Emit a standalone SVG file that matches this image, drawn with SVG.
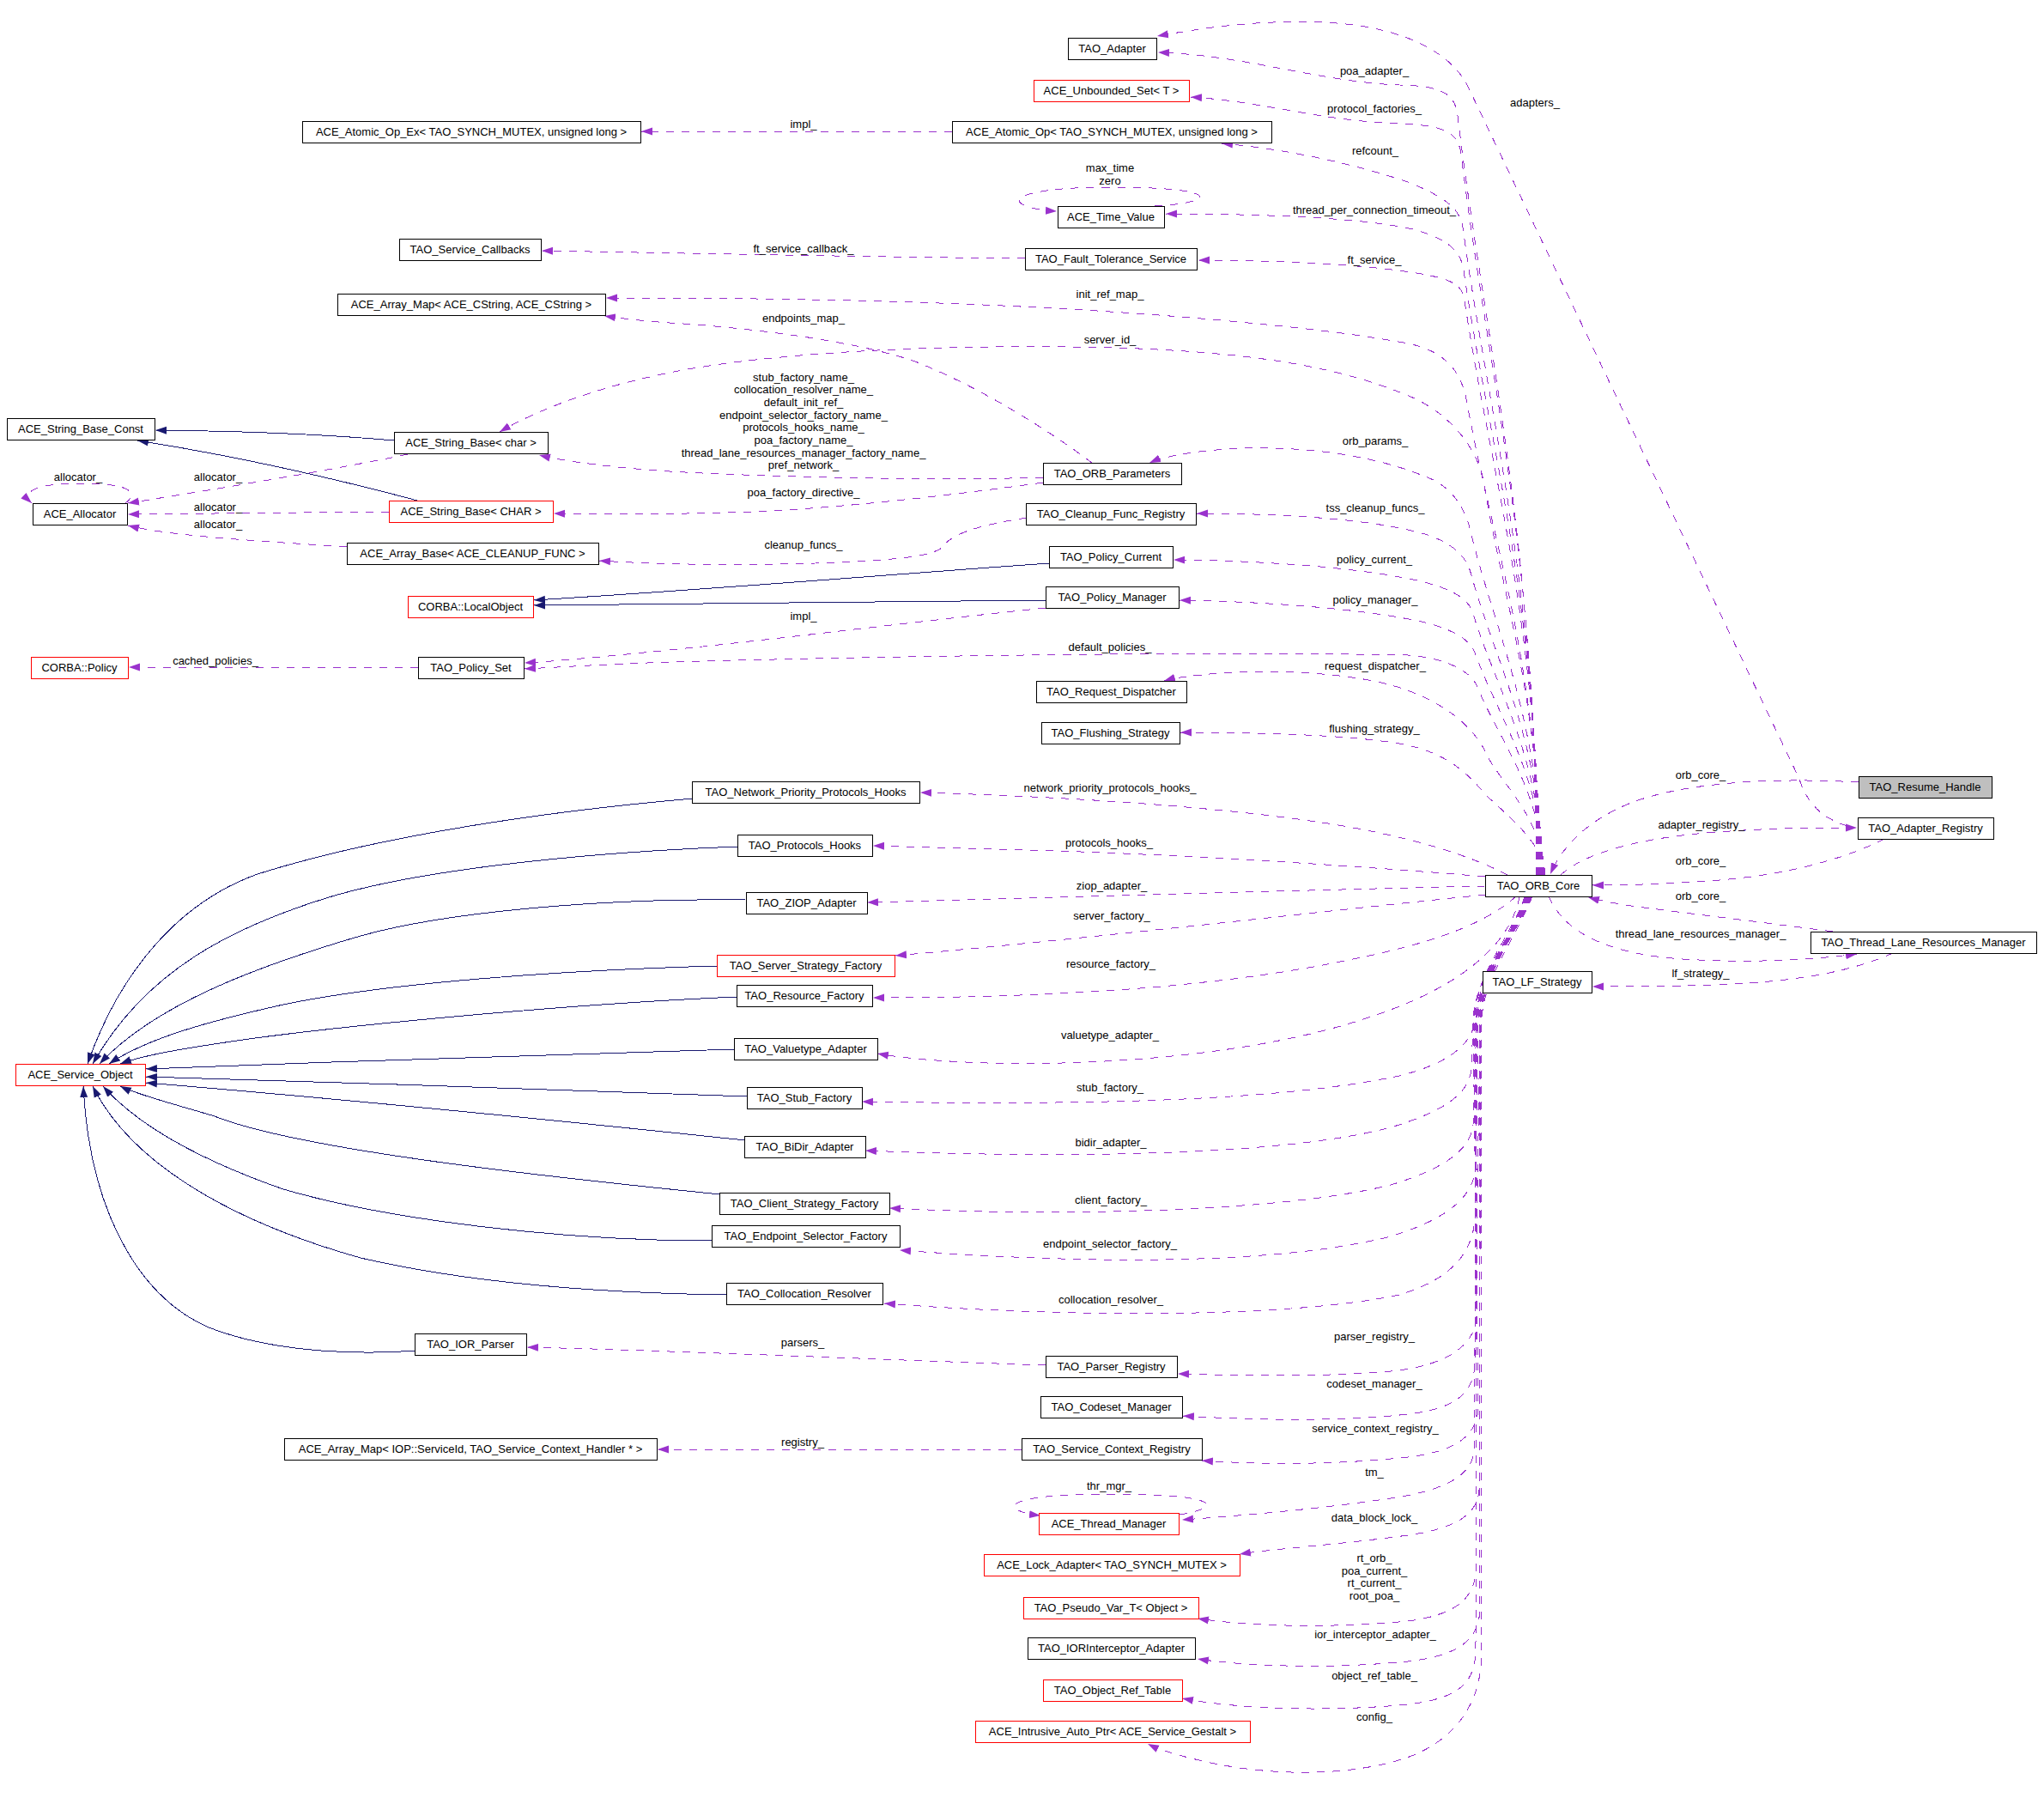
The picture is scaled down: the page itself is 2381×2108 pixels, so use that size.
<svg xmlns="http://www.w3.org/2000/svg" width="2381" height="2108" viewBox="0 0 2381 2108">
<style>
text{font-family:"Liberation Sans",Arial,sans-serif;font-size:13px;fill:#000}
.n text{text-anchor:middle}
.n rect{fill:#fff;stroke:#000;stroke-width:1;shape-rendering:crispEdges}
.r rect{stroke:#ff0000}
.g rect{fill:#bfbfbf}
.e{fill:none;stroke:#9a32cd;stroke-width:1;stroke-dasharray:9,9;marker-end:url(#ap);shape-rendering:crispEdges}
.i{fill:none;stroke:#191970;stroke-width:1;marker-end:url(#an);shape-rendering:crispEdges}
.l{text-anchor:middle}
</style>
<defs>
<marker id="ap" markerUnits="userSpaceOnUse" markerWidth="14" markerHeight="10" refX="13" refY="5" orient="auto"><path d="M0,0.5 L13,5 L0,9.5 z" fill="#9a32cd"/></marker>
<marker id="an" markerUnits="userSpaceOnUse" markerWidth="14" markerHeight="10" refX="13" refY="5" orient="auto"><path d="M0,0.5 L13,5 L0,9.5 z" fill="#191970"/></marker>
</defs>
<rect width="2381" height="2108" fill="#fff"/>
<g id="connectors">
<path class="e" d="M1790,1019 C1788,621 1730,400 1698,135 C1695,110 1682,100 1630,99 C1540,96 1450,64 1349,61"/>
<path class="e" d="M1791,1019 C1789,641 1733,432 1702,180 C1699,155 1685,146 1630,144 C1540,141 1470,118 1387,113"/>
<path class="e" d="M1792,1019 C1790,680 1735,491 1704,265 C1701,242 1680,228 1640,212 C1560,185 1480,172 1423,167"/>
<path class="e" d="M1793,1019 C1791,702 1736,526 1705,315 C1702,294 1690,280 1650,268 C1590,253 1460,249 1358,249"/>
<path class="e" d="M1793,1019 C1791,718 1736,551 1706,350 C1703,330 1690,325 1650,318 C1580,307 1480,303 1396,303"/>
<path class="e" d="M1794,1019 C1792,772 1739,635 1709,470 C1704,440 1690,410 1640,400 C1560,385 1450,375 1350,367 C1150,352 950,347 706,347"/>
<path class="e" d="M1795,1019 C1793,812 1751,698 1728,560 C1723,532 1700,490 1650,465 C1560,425 1450,410 1300,405 C1100,400 900,410 780,434 C700,450 630,475 582,503"/>
<path class="e" d="M1796,1019 C1794,837 1741,736 1712,615 C1706,591 1690,565 1660,555 C1600,530 1520,520 1450,522 C1400,524 1360,530 1339,539"/>
<path class="e" d="M1797,1019 C1795,862 1743,775 1714,670 C1710,654 1700,635 1660,622 C1600,605 1500,598 1394,598"/>
<path class="e" d="M1797,1019 C1795,882 1744,806 1716,715 C1712,701 1700,688 1655,677 C1590,662 1480,653 1367,652"/>
<path class="e" d="M1798,1019 C1796,902 1746,838 1718,760 C1714,749 1700,735 1660,725 C1600,711 1490,701 1374,699"/>
<path class="e" d="M1798,1019 C1796,920 1748,866 1721,800 C1717,790 1700,768 1640,763 C1400,758 1000,765 780,771 C700,774 650,777 611,779"/>
<path class="e" d="M1799,1019 C1797,950 1745,910 1730,875 C1710,835 1660,805 1600,793 C1530,780 1450,780 1400,786 C1380,788 1366,790 1356,793"/>
<path class="e" d="M1800,1019 C1798,980 1750,945 1730,925 C1705,895 1680,875 1630,866 C1570,856 1470,853 1375,853"/>
<path class="e" d="M1756,1019 C1700,990 1620,970 1540,958 C1420,940 1250,928 1072,923"/>
<path class="e" d="M1730,1021 C1600,1010 1400,996 1200,990 C1120,988 1060,986 1017,985"/>
<path class="e" d="M1730,1032 C1500,1037 1250,1045 1010,1051"/>
<path class="e" d="M1731,1042 C1550,1060 1300,1090 1043,1113"/>
<path class="e" d="M1766,1044 C1720,1085 1640,1105 1546,1123 C1420,1147 1250,1162 1017,1162"/>
<path class="e" d="M1770,1044 C1760,1100 1700,1150 1600,1183 C1480,1225 1300,1242 1150,1238 C1090,1236 1050,1232 1022,1227"/>
<path class="e" d="M1776,1044 C1758,1100 1722,1140 1719,1185 C1716,1215 1690,1238 1630,1253 C1500,1280 1300,1288 1004,1283"/>
<path class="e" d="M1777,1044 C1754,1100 1717,1140 1716,1190 L1714,1245 C1711,1275 1680,1295 1620,1313 C1500,1345 1250,1350 1008,1340"/>
<path class="e" d="M1778,1044 C1755,1100 1721,1140 1720,1190 L1716,1310 C1713,1340 1680,1362 1620,1380 C1500,1410 1250,1418 1036,1407"/>
<path class="e" d="M1779,1044 C1756,1100 1718,1140 1717,1190 L1719,1360 C1716,1395 1685,1420 1620,1440 C1500,1470 1300,1475 1048,1456"/>
<path class="e" d="M1780,1044 C1757,1100 1723,1140 1722,1190 L1718,1420 C1715,1460 1690,1490 1630,1508 C1500,1535 1250,1535 1030,1518"/>
<path class="e" d="M1780,1044 C1757,1100 1720,1140 1719,1190 L1721,1530 C1719,1565 1690,1590 1620,1597 C1540,1604 1450,1602 1372,1600"/>
<path class="e" d="M1781,1044 C1758,1100 1725,1140 1724,1190 L1718,1590 C1716,1620 1700,1640 1640,1647 C1560,1656 1460,1654 1378,1649"/>
<path class="e" d="M1781,1044 C1758,1100 1717,1140 1716,1190 L1722,1640 C1720,1670 1700,1690 1640,1697 C1560,1706 1470,1706 1400,1701"/>
<path class="e" d="M1782,1044 C1759,1100 1722,1140 1721,1190 L1717,1690 C1715,1715 1690,1735 1620,1745 C1540,1757 1450,1765 1377,1770"/>
<path class="e" d="M1782,1044 C1759,1100 1726,1140 1725,1190 L1723,1735 C1721,1765 1695,1780 1640,1788 C1560,1799 1490,1803 1444,1810"/>
<path class="e" d="M1783,1044 C1760,1100 1719,1140 1718,1190 L1720,1825 C1718,1860 1700,1880 1640,1888 C1560,1896 1460,1895 1395,1885"/>
<path class="e" d="M1783,1044 C1760,1100 1724,1140 1723,1190 L1724,1875 C1722,1910 1700,1928 1640,1935 C1560,1943 1460,1942 1395,1932"/>
<path class="e" d="M1784,1044 C1761,1100 1721,1140 1720,1190 L1719,1925 C1717,1960 1700,1978 1640,1985 C1560,1993 1450,1992 1377,1978"/>
<path class="e" d="M1785,1044 C1762,1100 1727,1140 1726,1190 L1725,1940 C1721,1990 1690,2030 1636,2048 C1580,2066 1500,2070 1420,2055 C1385,2048 1355,2040 1337,2031"/>
<path class="e" d="M2165,911 C2060,905 1960,912 1900,935 C1850,955 1820,985 1806,1018"/>
<path class="e" d="M1818,1019 C1850,990 1920,975 2000,969 C2070,964 2120,964 2163,964"/>
<path class="e" d="M2195,977 C2150,1000 2080,1020 1990,1026 C1930,1030 1890,1031 1855,1031"/>
<path class="e" d="M2135,1085 C2060,1075 1960,1063 1900,1055 C1880,1052 1865,1049 1850,1045"/>
<path class="e" d="M1804,1044 C1820,1080 1860,1110 1960,1117 C2040,1122 2110,1118 2163,1111"/>
<path class="e" d="M2205,1110 C2160,1130 2100,1143 2000,1147 C1940,1149 1890,1149 1855,1149"/>
<path class="e" d="M2152,962 C2120,952 2105,935 2095,905 L1712,105 C1695,65 1640,30 1540,26 C1460,23 1400,33 1348,42"/>
<path class="e" d="M1109,153 L747,153"/>
<path class="e" d="M1194,301 C1000,299 800,295 631,292"/>
<path class="e" d="M1272,539 C1220,500 1140,450 1066,421 C1000,398 880,382 780,376 C750,374 725,371 704,368"/>
<path class="e" d="M1215,556 C1100,560 900,556 780,549 C720,545 660,538 628,530"/>
<path class="e" d="M1215,562 C1120,575 1000,590 880,596 C800,599 700,599 645,598"/>
<path class="e" d="M1196,603 C1150,610 1110,620 1100,635 C1090,648 1050,652 950,656 C850,659 760,657 698,653"/>
<path class="e" d="M1218,708 C1100,720 900,745 780,757 C700,765 650,770 611,772"/>
<path class="e" d="M487,777 L150,777"/>
<path class="e" d="M1190,1688 L766,1688"/>
<path class="e" d="M1218,1590 C1100,1586 900,1578 780,1574 C700,1571 650,1570 614,1569"/>
<path class="e" d="M475,529 C400,545 250,570 149,586"/>
<path class="e" d="M453,596 L149,599"/>
<path class="e" d="M404,637 C320,631 200,625 149,612"/>
<path class="e" d="M146,586 C160,576 158,563 95,563 C35,563 25,575 37,586"/>
<path class="e" d="M1345,240 C1420,236 1425,218 1294,218 C1165,218 1165,242 1231,246"/>
<path class="e" d="M1374,1764 C1425,1756 1425,1740 1292,1740 C1160,1740 1165,1760 1212,1765"/>
<path class="i" d="M459,513 C380,506 280,502 181,501"/>
<path class="i" d="M490,584 C430,568 300,535 160,513"/>
<path class="i" d="M1222,656 C1050,668 850,685 622,699"/>
<path class="i" d="M1218,699 C1050,700 850,704 622,705"/>
<path class="i" d="M807,930 C600,948 420,980 300,1018 C210,1050 140,1130 102,1239"/>
<path class="i" d="M859,986 C700,992 500,1010 383,1045 C270,1080 170,1130 108,1239"/>
<path class="i" d="M868,1048 C700,1046 520,1062 420,1090 C300,1125 180,1170 116,1239"/>
<path class="i" d="M836,1125 C650,1130 450,1145 330,1170 C240,1190 170,1210 127,1239"/>
<path class="i" d="M858,1161 C650,1170 400,1195 290,1210 C220,1220 170,1228 140,1239"/>
<path class="i" d="M855,1222 C650,1228 400,1236 170,1245"/>
<path class="i" d="M871,1277 C650,1270 400,1260 170,1254"/>
<path class="i" d="M868,1328 C650,1305 400,1280 170,1261"/>
<path class="i" d="M839,1391 C650,1372 350,1340 250,1300 C200,1285 160,1275 140,1265"/>
<path class="i" d="M829,1445 C650,1445 450,1420 330,1385 C230,1350 160,1310 120,1265"/>
<path class="i" d="M847,1508 C700,1506 550,1495 420,1465 C260,1420 150,1350 108,1265"/>
<path class="i" d="M484,1573 C420,1578 330,1575 260,1552 C170,1525 105,1420 97,1265"/>
<text class="l" x="1788" y="124">adapters_</text>
<text class="l" x="1601" y="87">poa_adapter_</text>
<text class="l" x="1601" y="131">protocol_factories_</text>
<text class="l" x="1602" y="180">refcount_</text>
<text class="l" x="1601" y="249">thread_per_connection_timeout_</text>
<text class="l" x="1601" y="307">ft_service_</text>
<text class="l" x="1293" y="347">init_ref_map_</text>
<text class="l" x="1293" y="400">server_id_</text>
<text class="l" x="1602" y="518">orb_params_</text>
<text class="l" x="1602" y="596">tss_cleanup_funcs_</text>
<text class="l" x="1601" y="656">policy_current_</text>
<text class="l" x="1602" y="703">policy_manager_</text>
<text class="l" x="1293" y="758">default_policies_</text>
<text class="l" x="1602" y="780">request_dispatcher_</text>
<text class="l" x="1601" y="853">flushing_strategy_</text>
<text class="l" x="936" y="149">impl_</text>
<text class="l" x="1293" y="200">max_time</text>
<text class="l" x="1293" y="215">zero</text>
<text class="l" x="936" y="294">ft_service_callback_</text>
<text class="l" x="936" y="375">endpoints_map_</text>
<text class="l" x="936" y="444">stub_factory_name_</text>
<text class="l" x="936" y="458">collocation_resolver_name_</text>
<text class="l" x="936" y="473">default_init_ref_</text>
<text class="l" x="936" y="488">endpoint_selector_factory_name_</text>
<text class="l" x="936" y="502">protocols_hooks_name_</text>
<text class="l" x="936" y="517">poa_factory_name_</text>
<text class="l" x="936" y="532">thread_lane_resources_manager_factory_name_</text>
<text class="l" x="936" y="546">pref_network_</text>
<text class="l" x="936" y="578">poa_factory_directive_</text>
<text class="l" x="936" y="639">cleanup_funcs_</text>
<text class="l" x="936" y="722">impl_</text>
<text class="l" x="251" y="774">cached_policies_</text>
<text class="l" x="91" y="560">allocator_</text>
<text class="l" x="254" y="560">allocator_</text>
<text class="l" x="254" y="595">allocator_</text>
<text class="l" x="254" y="615">allocator_</text>
<text class="l" x="1981" y="907">orb_core_</text>
<text class="l" x="1982" y="965">adapter_registry_</text>
<text class="l" x="1981" y="1007">orb_core_</text>
<text class="l" x="1981" y="1048">orb_core_</text>
<text class="l" x="1981" y="1092">thread_lane_resources_manager_</text>
<text class="l" x="1981" y="1138">lf_strategy_</text>
<text class="l" x="1293" y="922">network_priority_protocols_hooks_</text>
<text class="l" x="1292" y="986">protocols_hooks_</text>
<text class="l" x="1295" y="1036">ziop_adapter_</text>
<text class="l" x="1295" y="1071">server_factory_</text>
<text class="l" x="1294" y="1127">resource_factory_</text>
<text class="l" x="1293" y="1210">valuetype_adapter_</text>
<text class="l" x="1293" y="1271">stub_factory_</text>
<text class="l" x="1294" y="1335">bidir_adapter_</text>
<text class="l" x="1294" y="1402">client_factory_</text>
<text class="l" x="1293" y="1453">endpoint_selector_factory_</text>
<text class="l" x="1294" y="1518">collocation_resolver_</text>
<text class="l" x="935" y="1568">parsers_</text>
<text class="l" x="1601" y="1561">parser_registry_</text>
<text class="l" x="1601" y="1616">codeset_manager_</text>
<text class="l" x="1602" y="1668">service_context_registry_</text>
<text class="l" x="935" y="1684">registry_</text>
<text class="l" x="1292" y="1735">thr_mgr_</text>
<text class="l" x="1601" y="1719">tm_</text>
<text class="l" x="1601" y="1772">data_block_lock_</text>
<text class="l" x="1601" y="1819">rt_orb_</text>
<text class="l" x="1601" y="1834">poa_current_</text>
<text class="l" x="1601" y="1848">rt_current_</text>
<text class="l" x="1601" y="1863">root_poa_</text>
<text class="l" x="1602" y="1908">ior_interceptor_adapter_</text>
<text class="l" x="1601" y="1956">object_ref_table_</text>
<text class="l" x="1601" y="2004">config_</text>
</g>
<g id="n1" class="n"><rect x="1244" y="44" width="103" height="25"/><text x="1295.5" y="61">TAO_Adapter</text></g>
<g id="n2" class="n r"><rect x="1204" y="93" width="181" height="25"/><text x="1294.5" y="110">ACE_Unbounded_Set&lt; T &gt;</text></g>
<g id="n3" class="n"><rect x="352" y="141" width="394" height="25"/><text x="549" y="158">ACE_Atomic_Op_Ex&lt; TAO_SYNCH_MUTEX, unsigned long &gt;</text></g>
<g id="n4" class="n"><rect x="1109" y="141" width="372" height="25"/><text x="1295" y="158">ACE_Atomic_Op&lt; TAO_SYNCH_MUTEX, unsigned long &gt;</text></g>
<g id="n5" class="n"><rect x="1232" y="240" width="124" height="25"/><text x="1294" y="257">ACE_Time_Value</text></g>
<g id="n6" class="n"><rect x="465" y="278" width="165" height="25"/><text x="547.5" y="295">TAO_Service_Callbacks</text></g>
<g id="n7" class="n"><rect x="1194" y="289" width="200" height="25"/><text x="1294" y="306">TAO_Fault_Tolerance_Service</text></g>
<g id="n8" class="n"><rect x="393" y="342" width="312" height="25"/><text x="549" y="359">ACE_Array_Map&lt; ACE_CString, ACE_CString &gt;</text></g>
<g id="n9" class="n"><rect x="8" y="487" width="172" height="25"/><text x="94" y="504">ACE_String_Base_Const</text></g>
<g id="n10" class="n"><rect x="459" y="503" width="179" height="25"/><text x="548.5" y="520">ACE_String_Base&lt; char &gt;</text></g>
<g id="n11" class="n"><rect x="1215" y="539" width="161" height="25"/><text x="1295.5" y="556">TAO_ORB_Parameters</text></g>
<g id="n12" class="n"><rect x="38" y="586" width="110" height="25"/><text x="93" y="603">ACE_Allocator</text></g>
<g id="n13" class="n r"><rect x="453" y="583" width="191" height="25"/><text x="548.5" y="600">ACE_String_Base&lt; CHAR &gt;</text></g>
<g id="n14" class="n"><rect x="1195" y="586" width="198" height="25"/><text x="1294" y="603">TAO_Cleanup_Func_Registry</text></g>
<g id="n15" class="n"><rect x="404" y="632" width="293" height="25"/><text x="550.5" y="649">ACE_Array_Base&lt; ACE_CLEANUP_FUNC &gt;</text></g>
<g id="n16" class="n"><rect x="1222" y="636" width="144" height="25"/><text x="1294" y="653">TAO_Policy_Current</text></g>
<g id="n17" class="n r"><rect x="475" y="694" width="146" height="25"/><text x="548" y="711">CORBA::LocalObject</text></g>
<g id="n18" class="n"><rect x="1218" y="683" width="155" height="25"/><text x="1295.5" y="700">TAO_Policy_Manager</text></g>
<g id="n19" class="n r"><rect x="36" y="765" width="113" height="25"/><text x="92.5" y="782">CORBA::Policy</text></g>
<g id="n20" class="n"><rect x="487" y="765" width="123" height="25"/><text x="548.5" y="782">TAO_Policy_Set</text></g>
<g id="n21" class="n"><rect x="1207" y="793" width="175" height="25"/><text x="1294.5" y="810">TAO_Request_Dispatcher</text></g>
<g id="n22" class="n"><rect x="1213" y="841" width="161" height="25"/><text x="1293.5" y="858">TAO_Flushing_Strategy</text></g>
<g id="n23" class="n g"><rect x="2165" y="904" width="155" height="25"/><text x="2242.5" y="921">TAO_Resume_Handle</text></g>
<g id="n24" class="n"><rect x="806" y="910" width="265" height="25"/><text x="938.5" y="927">TAO_Network_Priority_Protocols_Hooks</text></g>
<g id="n25" class="n"><rect x="2164" y="952" width="158" height="25"/><text x="2243" y="969">TAO_Adapter_Registry</text></g>
<g id="n26" class="n"><rect x="859" y="972" width="157" height="25"/><text x="937.5" y="989">TAO_Protocols_Hooks</text></g>
<g id="n27" class="n"><rect x="1730" y="1019" width="124" height="25"/><text x="1792" y="1036">TAO_ORB_Core</text></g>
<g id="n28" class="n"><rect x="869" y="1039" width="141" height="25"/><text x="939.5" y="1056">TAO_ZIOP_Adapter</text></g>
<g id="n29" class="n"><rect x="2109" y="1085" width="263" height="25"/><text x="2240.5" y="1102">TAO_Thread_Lane_Resources_Manager</text></g>
<g id="n30" class="n r"><rect x="835" y="1112" width="207" height="25"/><text x="938.5" y="1129">TAO_Server_Strategy_Factory</text></g>
<g id="n31" class="n"><rect x="1727" y="1131" width="127" height="25"/><text x="1790.5" y="1148">TAO_LF_Strategy</text></g>
<g id="n32" class="n"><rect x="858" y="1147" width="158" height="25"/><text x="937" y="1164">TAO_Resource_Factory</text></g>
<g id="n33" class="n"><rect x="855" y="1209" width="167" height="25"/><text x="938.5" y="1226">TAO_Valuetype_Adapter</text></g>
<g id="n34" class="n r"><rect x="18" y="1239" width="151" height="25"/><text x="93.5" y="1256">ACE_Service_Object</text></g>
<g id="n35" class="n"><rect x="870" y="1266" width="134" height="25"/><text x="937" y="1283">TAO_Stub_Factory</text></g>
<g id="n36" class="n"><rect x="867" y="1323" width="141" height="25"/><text x="937.5" y="1340">TAO_BiDir_Adapter</text></g>
<g id="n37" class="n"><rect x="838" y="1389" width="198" height="25"/><text x="937" y="1406">TAO_Client_Strategy_Factory</text></g>
<g id="n38" class="n"><rect x="829" y="1427" width="219" height="25"/><text x="938.5" y="1444">TAO_Endpoint_Selector_Factory</text></g>
<g id="n39" class="n"><rect x="846" y="1494" width="182" height="25"/><text x="937" y="1511">TAO_Collocation_Resolver</text></g>
<g id="n40" class="n"><rect x="483" y="1553" width="130" height="25"/><text x="548" y="1570">TAO_IOR_Parser</text></g>
<g id="n41" class="n"><rect x="1218" y="1579" width="153" height="25"/><text x="1294.5" y="1596">TAO_Parser_Registry</text></g>
<g id="n42" class="n"><rect x="1212" y="1626" width="165" height="25"/><text x="1294.5" y="1643">TAO_Codeset_Manager</text></g>
<g id="n43" class="n"><rect x="331" y="1675" width="434" height="25"/><text x="548" y="1692">ACE_Array_Map&lt; IOP::ServiceId, TAO_Service_Context_Handler * &gt;</text></g>
<g id="n44" class="n"><rect x="1190" y="1675" width="210" height="25"/><text x="1295" y="1692">TAO_Service_Context_Registry</text></g>
<g id="n45" class="n r"><rect x="1210" y="1762" width="163" height="25"/><text x="1291.5" y="1779">ACE_Thread_Manager</text></g>
<g id="n46" class="n r"><rect x="1146" y="1810" width="298" height="25"/><text x="1295" y="1827">ACE_Lock_Adapter&lt; TAO_SYNCH_MUTEX &gt;</text></g>
<g id="n47" class="n r"><rect x="1192" y="1860" width="204" height="25"/><text x="1294" y="1877">TAO_Pseudo_Var_T&lt; Object &gt;</text></g>
<g id="n48" class="n"><rect x="1197" y="1907" width="195" height="25"/><text x="1294.5" y="1924">TAO_IORInterceptor_Adapter</text></g>
<g id="n49" class="n r"><rect x="1215" y="1956" width="162" height="25"/><text x="1296" y="1973">TAO_Object_Ref_Table</text></g>
<g id="n50" class="n r"><rect x="1136" y="2004" width="320" height="25"/><text x="1296" y="2021">ACE_Intrusive_Auto_Ptr&lt; ACE_Service_Gestalt &gt;</text></g>
</svg>
